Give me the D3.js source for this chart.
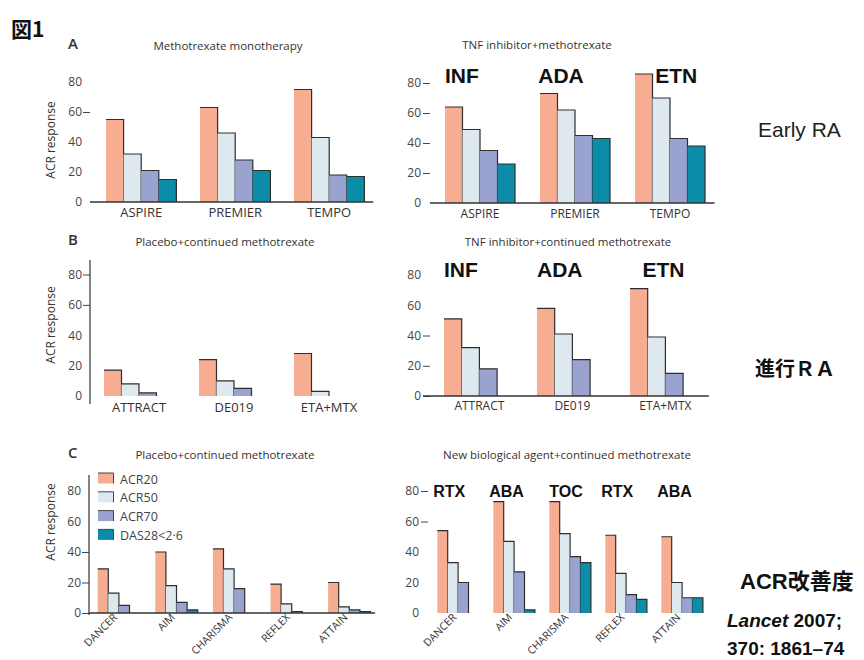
<!DOCTYPE html>
<html>
<head>
<meta charset="utf-8">
<script src="https://cdn.jsdelivr.net/npm/d3@7"></script>
<style>
  html, body { margin: 0; padding: 0; background: #fff; }
  svg { display: block; }
</style>
</head>
<body>
<svg id="fig" width="864" height="660"></svg>
<script>
// ---- data -------------------------------------------------------------
const seriesKeys   = ["ACR20", "ACR50", "ACR70", "DAS28"];
const seriesLabels = ["ACR20", "ACR50", "ACR70", "DAS28<2·6"];
const seriesColors = ["#f7ad92", "#dde9ee", "#9aa3cf", "#0b8ca7"];
const yTickValues  = [0, 20, 40, 60, 80];

// A: early RA
const earlyTrials   = ["ASPIRE", "PREMIER", "TEMPO"];
const earlyDrugs    = ["INF", "ADA", "ETN"];
const mtxAcr20      = [55, 63, 75];
const mtxAcr50      = [32, 46, 43];
const mtxAcr70      = [21, 28, 18];
const mtxDas        = [15, 21, 17];
const tnfMtxAcr20   = [64, 73, 86];
const tnfMtxAcr50   = [49, 62, 70];
const tnfMtxAcr70   = [35, 45, 43];
const tnfMtxDas     = [26, 43, 38];

// B: advanced RA, TNF inhibitors
const advTrials     = ["ATTRACT", "DE019", "ETA+MTX"];
const advDrugs      = ["INF", "ADA", "ETN"];
const plaAcr20      = [17, 24, 28];
const plaAcr50      = [8, 10, 3];
const plaAcr70      = [2, 5, 0];
const tnfContAcr20  = [51, 58, 71];
const tnfContAcr50  = [32, 41, 39];
const tnfContAcr70  = [18, 24, 15];

// C: new biological agents
const bioTrials     = ["DANCER", "AIM", "CHARISMA", "REFLEX", "ATTAIN"];
const bioDrugs      = ["RTX", "ABA", "TOC", "RTX", "ABA"];
const bioPlaAcr20   = [29, 40, 42, 19, 20];
const bioPlaAcr50   = [13, 18, 29, 6, 4];
const bioPlaAcr70   = [5, 7, 16, 1, 2];
const bioPlaDas     = [0, 2, 0, 0, 1];
const bioAcr20      = [54, 73, 73, 51, 50];
const bioAcr50      = [33, 47, 52, 26, 20];
const bioAcr70      = [20, 27, 37, 12, 10];
const bioDas        = [0, 2, 33, 9, 10];

// ---- layout -----------------------------------------------------------
const FONT = "'Open Sans', 'DejaVu Sans', sans-serif";
const BOLD = "'Liberation Sans', Arial, sans-serif";
const CJK  = "'Liberation Sans', 'Noto Sans CJK JP', sans-serif";

const svg = d3.select("#fig");

const panels = [
  { letter: "A", title: "Methotrexate monotherapy", titleX: 228, titleY: 50,
    trials: earlyTrials, values: [mtxAcr20, mtxAcr50, mtxAcr70, mtxDas],
    firstBar: 106, step: 94, barW: 17.6, y0: 202, y80: 82,
    axisX: 90, tickPad: 8, markTicks: [60], baseline: true, vline: null,
    yLabel: true, yLabelY: 140, catDy: 15, rotate: false },
  { title: "TNF inhibitor+methotrexate", titleX: 537, titleY: 49,
    trials: earlyTrials, values: [tnfMtxAcr20, tnfMtxAcr50, tnfMtxAcr70, tnfMtxDas],
    firstBar: 445, step: 95, barW: 17.5, y0: 203, y80: 83,
    axisX: 430, tickPad: 9, markTicks: [80, 60, 40, 20], baseline: true, vline: null,
    drugs: earlyDrugs, drugShift: [0, -0.1, 1.15], drugSize: 21, drugY: 83,
    catDy: 15, catSize: 12, rotate: false },
  { letter: "B", title: "Placebo+continued methotrexate", titleX: 225, titleY: 246,
    trials: advTrials, values: [plaAcr20, plaAcr50, plaAcr70],
    firstBar: 104, step: 95, barW: 17.5, y0: 396, y80: 274.5,
    axisX: 90, tickPad: 8, markTicks: [80, 60], baseline: false, vline: [260, 404],
    yLabel: true, yLabelY: 325, catDy: 16, rotate: false },
  { title: "TNF inhibitor+continued methotrexate", titleX: 568, titleY: 246,
    trials: advTrials, values: [tnfContAcr20, tnfContAcr50, tnfContAcr70],
    firstBar: 444, step: 93, barW: 17.7, y0: 396, y80: 275,
    axisX: 430, tickPad: 9, markTicks: [40, 20, 0], baseline: true, baseX0: 423, vline: null,
    drugs: advDrugs, drugShift: [0, 0, 0.7], drugSize: 21, drugY: 277,
    catDy: 14, catSize: 12, rotate: false },
  { letter: "C", title: "Placebo+continued methotrexate", titleX: 225, titleY: 459,
    trials: bioTrials, values: [bioPlaAcr20, bioPlaAcr50, bioPlaAcr70, bioPlaDas],
    firstBar: 97.7, step: 57.6, barW: 10.6, y0: 613, y80: 491,
    axisX: 89, tickPad: 8, markTicks: [40, 20, 0], baseline: true, vline: [475, 615],
    yLabel: true, yLabelY: 522, legend: true, rotate: true },
  { title: "New biological agent+continued methotrexate", titleX: 567, titleY: 459,
    trials: bioTrials, values: [bioAcr20, bioAcr50, bioAcr70, bioDas],
    firstBar: 437.3, step: 56, barW: 10.4, y0: 613, y80: 491,
    axisX: 428, tickPad: 9, markTicks: [80, 60], baseline: false, vline: null,
    drugs: bioDrugs, drugShift: [-0.4, -0.4, 0, -0.4, -0.4], drugSize: 16, drugY: 497,
    rotate: true }
];

function drawPanel(p) {
  const g = svg.append("g");
  const n = p.trials.length;
  const pad = 1 - 4 * p.barW / p.step;
  const x0 = p.firstBar - pad / 2 * p.step;
  const x = d3.scaleBand().domain(p.trials)
    .range([x0, x0 + n * p.step]).paddingInner(pad).paddingOuter(pad / 2);
  const xs = d3.scaleBand().domain(seriesKeys).range([0, x.bandwidth()]);
  const y = d3.scaleLinear().domain([0, 80]).range([p.y0, p.y80]);

  // title and panel letter
  g.append("text").attr("x", p.titleX).attr("y", p.titleY)
    .attr("text-anchor", "middle").attr("font-family", FONT)
    .attr("font-size", 11.5).attr("fill", "#333").text(p.title);
  if (p.letter) {
    g.append("text").attr("x", 68).attr("y", p.titleY - 1)
      .attr("font-family", FONT).attr("font-weight", 600)
      .attr("font-size", 15).attr("fill", "#333").text(p.letter);
  }

  // y axis: labels with selected tick marks
  const axis = g.append("g").attr("transform", `translate(${p.axisX},0)`)
    .call(d3.axisLeft(y).tickValues(yTickValues).tickSize(0).tickPadding(p.tickPad));
  axis.select(".domain").remove();
  axis.selectAll("text").attr("font-family", FONT).attr("font-size", 12)
    .attr("fill", "#444");
  axis.selectAll(".tick").filter(d => p.markTicks.includes(d))
    .append("line").attr("x1", -7).attr("x2", 0)
    .attr("stroke", "#444").attr("stroke-width", 1);

  if (p.vline) {
    g.append("line").attr("x1", p.axisX).attr("x2", p.axisX)
      .attr("y1", p.vline[0]).attr("y2", p.vline[1])
      .attr("stroke", "#333").attr("stroke-width", 1.2);
  }

  if (p.yLabel) {
    g.append("text").attr("transform", `translate(52,${p.yLabelY}) rotate(-90)`)
      .attr("text-anchor", "middle").attr("dominant-baseline", "middle")
      .attr("font-family", FONT).attr("font-size", 12).attr("fill", "#333")
      .text("ACR response");
  }

  // bars
  const cells = [];
  p.trials.forEach((t, i) => {
    p.values.forEach((arr, k) => {
      const v = arr[i];
      if (v > 0) cells.push({ t, k, v });
    });
  });
  const bars = g.append("g").selectAll("g").data(cells).join("g");
  bars.append("rect")
    .attr("x", d => x(d.t) + xs(seriesKeys[d.k]))
    .attr("y", d => y(d.v))
    .attr("width", xs.bandwidth())
    .attr("height", d => y(0) - y(d.v))
    .attr("fill", d => seriesColors[d.k]);
  bars.append("path")
    .attr("d", d => {
      const bx = x(d.t) + xs(seriesKeys[d.k]);
      return `M${bx},${y(d.v)}H${bx + xs.bandwidth()}V${y(0)}`;
    })
    .attr("fill", "none").attr("stroke", "#2e2e2e").attr("stroke-width", 1.2);

  if (p.baseline) {
    g.append("line").attr("x1", p.baseX0 || p.axisX).attr("x2", x.range()[1] - 3)
      .attr("y1", y(0)).attr("y2", y(0))
      .attr("stroke", "#333").attr("stroke-width", 1.3);
  }

  // category labels
  const cats = g.append("g").selectAll("text").data(p.trials).join("text")
    .attr("font-family", FONT).attr("fill", "#333").text(d => d);
  if (p.rotate) {
    cats.attr("text-anchor", "end").attr("font-size", 10.6)
      .attr("transform", d => `translate(${x(d) + x.bandwidth() / 2 - 1},${y(0) + 5}) rotate(-45)`);
  } else {
    cats.attr("text-anchor", "middle").attr("font-size", p.catSize || 13)
      .attr("x", d => x(d) + x.bandwidth() / 2).attr("y", y(0) + p.catDy);
  }

  // drug names above the groups
  if (p.drugs) {
    g.append("g").selectAll("text").data(p.trials).join("text")
      .attr("x", (d, i) => x(d) + p.drugShift[i] * xs.bandwidth())
      .attr("y", p.drugY)
      .attr("font-family", BOLD).attr("font-weight", "bold")
      .attr("font-size", p.drugSize).attr("fill", "#111")
      .text((d, i) => p.drugs[i]);
  }

  // legend
  if (p.legend) {
    const lg = g.append("g").selectAll("g").data(seriesKeys).join("g")
      .attr("transform", (d, i) => `translate(98,${473 + i * 18.8})`);
    lg.append("rect").attr("width", 15.5).attr("height", 10.5)
      .attr("fill", (d, i) => seriesColors[i]);
    lg.append("path").attr("d", "M0,0H15.5V10.5")
      .attr("fill", "none").attr("stroke", "#444").attr("stroke-width", 1);
    lg.append("text").attr("x", 22).attr("y", 10.5)
      .attr("font-family", FONT).attr("font-size", 12.5).attr("fill", "#444")
      .text((d, i) => seriesLabels[i]);
  }
}

panels.forEach(drawPanel);

// figure number and side notes
svg.append("text").attr("x", 11).attr("y", 37)
  .attr("font-family", "'Noto Sans CJK JP', sans-serif").attr("font-weight", "bold")
  .attr("font-size", 21).attr("fill", "#111").text("図1");

svg.append("text").attr("x", 758).attr("y", 137)
  .attr("font-family", BOLD).attr("font-size", 21).attr("fill", "#222")
  .text("Early RA");

svg.append("text").attr("x", 755).attr("y", 376)
  .attr("font-family", "'Noto Sans CJK JP', sans-serif").attr("font-weight", "bold")
  .attr("font-size", 20).attr("fill", "#111").text("進行ＲＡ");

svg.append("text").attr("x", 740).attr("y", 589)
  .attr("font-family", CJK).attr("font-weight", "bold")
  .attr("font-size", 22).attr("fill", "#111").text("ACR改善度");

const ref1 = svg.append("text").attr("x", 727).attr("y", 627)
  .attr("font-family", BOLD).attr("font-weight", "bold")
  .attr("font-size", 19).attr("fill", "#111");
ref1.append("tspan").attr("font-style", "italic").text("Lancet");
ref1.append("tspan").text(" 2007;");

svg.append("text").attr("x", 727).attr("y", 655)
  .attr("font-family", BOLD).attr("font-weight", "bold")
  .attr("font-size", 19).attr("fill", "#111").text("370: 1861–74");
</script>
</body>
</html>
